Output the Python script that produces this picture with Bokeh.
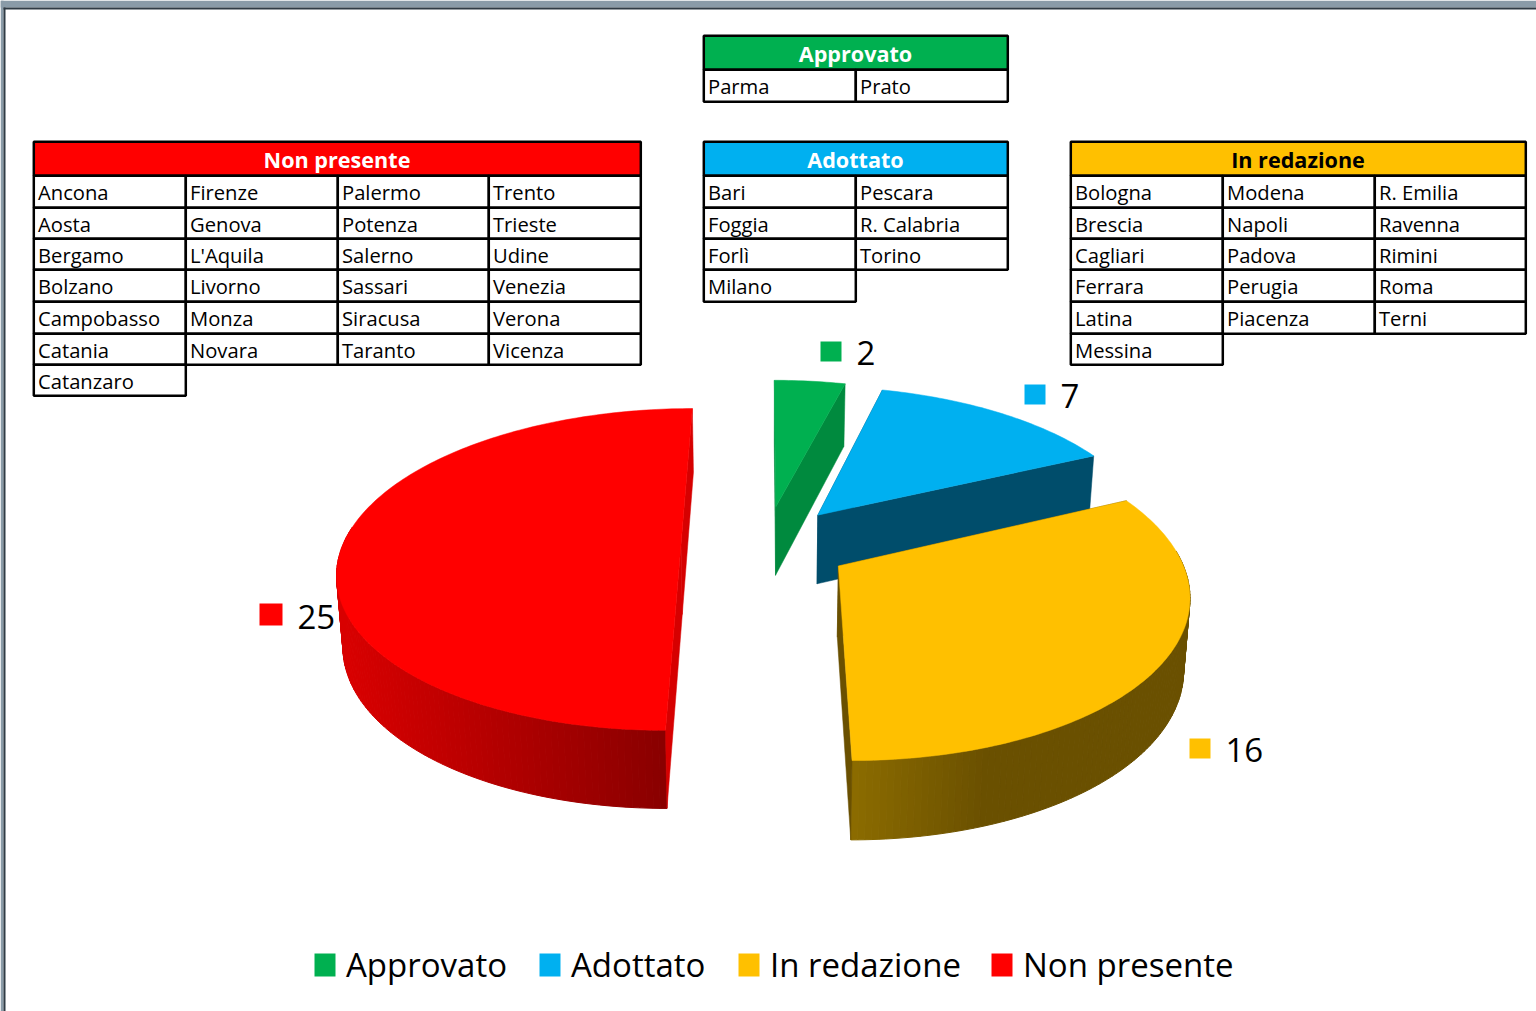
import numpy as np
from bokeh.plotting import figure
from bokeh.models import Range1d, ColumnDataSource
from bokeh.core.properties import value
from bokeh.embed import file_html
from bokeh.resources import INLINE

# ---------- data ----------
categories = ["Approvato", "Adottato", "In redazione", "Non presente"]
counts = [2, 7, 16, 25]
tbl_approvato = [["Parma", "Prato"]]
tbl_adottato = [["Bari", "Pescara"], ["Foggia", "R. Calabria"], ["Forlì", "Torino"], ["Milano"]]
tbl_redazione = [["Bologna", "Modena", "R. Emilia"], ["Brescia", "Napoli", "Ravenna"],
                 ["Cagliari", "Padova", "Rimini"], ["Ferrara", "Perugia", "Roma"],
                 ["Latina", "Piacenza", "Terni"], ["Messina"]]
tbl_nonpres = [["Ancona", "Firenze", "Palermo", "Trento"], ["Aosta", "Genova", "Potenza", "Trieste"],
               ["Bergamo", "L'Aquila", "Salerno", "Udine"], ["Bolzano", "Livorno", "Sassari", "Venezia"],
               ["Campobasso", "Monza", "Siracusa", "Verona"], ["Catania", "Novara", "Taranto", "Vicenza"],
               ["Catanzaro"]]

# ---------- style ----------
COL = ["#00B050", "#00B0F0", "#FFC000", "#FF0000"]
FACE = ["#008A3E", "#004D6B", "#6A5000", "#D60000"]
FONT = value("Open Sans")
BASE_SHIFT = 0.4  # the svg text sits this many font sizes below its anchor

p = figure(width=1536, height=1011, x_range=Range1d(0, 1536), y_range=Range1d(1011, 0),
           output_backend="svg", toolbar_location=None, min_border=0,
           background_fill_color="white", border_fill_color="white", outline_line_color=None)
p.axis.visible = False
p.grid.visible = False
p.styles = {"position": "absolute", "left": "0", "top": "0"}

def label(x, y, txt, size, color="black", align="left", style="normal"):
    p.text([x], [y - BASE_SHIFT * size], text=[txt], text_font=FONT, text_font_size=f"{size}px",
           text_font_style=style, text_color=color, text_align=align, text_baseline="alphabetic")

# window frame
p.quad(left=[0, 0], right=[1536, 3], top=[0, 0], bottom=[7, 1011], color="#8A9BA8", line_color=None)
p.quad(left=[3, 3], right=[1536, 5], top=[7, 7], bottom=[9, 1011], color="#2F3B45", line_color=None)

# ---------- tables ----------
ROW_H = 31.5
COL_W = 151.8
NUDGE = 0.7
pending = []
def table(x0, y0, ncol, title, rows, fill, tcolor):
    xr = round(x0 + ncol * COL_W)
    yh = y0 + 34
    p.quad(left=[x0 - NUDGE], right=[xr - NUDGE], top=[y0 - NUDGE], bottom=[yh - NUDGE], fill_color=fill,
           line_color="black", line_width=2.5)
    pending.append(((x0 + xr) / 2 - 1, y0 + 26, title, 21.6, tcolor, "center", "bold"))
    for r, row in enumerate(rows):
        for c, name in enumerate(row):
            l, rr = round(x0 + c * COL_W), round(x0 + (c + 1) * COL_W)
            t, b = round(yh + r * ROW_H), round(yh + (r + 1) * ROW_H)
            p.quad(left=[l - NUDGE], right=[rr - NUDGE], top=[t - NUDGE], bottom=[b - NUDGE], fill_color="white",
                   line_color="black", line_width=2.5)
            pending.append((l + 3.5, t + 24, name, 20.2, "black", "left", "normal"))

table(704, 36, 2, categories[0], tbl_approvato, COL[0], "white")
table(704, 142, 2, categories[1], tbl_adottato, COL[1], "white")
table(1071, 142, 3, categories[2], tbl_redazione, COL[2], "black")
table(34, 142, 4, categories[3], tbl_nonpres, COL[3], "white")
for args in pending:
    label(*args)

# ---------- perspective pie ----------
VX, HZ, A, K, B = 765.0, -469.0, 1013.0, 0.155, 338.0
EXPL, DEPTH, SHRINK = 0.25, 70.0, 0.985

def proj(X, Y):
    w = 1 - K * np.asarray(Y, float)
    return VX + B * np.asarray(X, float) / w, HZ + A / w, w

def lower(x, y, w):
    return VX + (x - VX) * SHRINK, y + DEPTH * w ** -0.65

def hex2rgb(h):
    return np.array([int(h[i:i + 2], 16) for i in (1, 3, 5)], float)

def grad(x, stops):
    xs = [s[0] for s in stops]
    cs = np.array([hex2rgb(s[1]) for s in stops])
    rgb = [np.interp(x, xs, cs[:, i]) for i in range(3)]
    return "#%02x%02x%02x" % tuple(int(round(v)) for v in rgb)

GRAD = {2: [(851, "#8C6C00"), (985, "#6A5000")], 3: [(345, "#D80000"), (668, "#880000")]}

total = sum(counts)
starts = np.cumsum([0] + counts[:-1]) / total * 360.0
sweeps = np.array(counts) / total * 360.0

for i in [0, 1, 3, 2]:
    a0, sw = starts[i], sweeps[i]
    mid = np.radians(a0 + sw / 2)
    cx, cy = EXPL * np.sin(mid), -EXPL * np.cos(mid)
    th = np.radians(np.linspace(a0, a0 + sw, int(sw) + 2))
    ax, ay, aw = proj(cx + np.sin(th), cy - np.cos(th))
    bx, by = lower(ax, ay, aw)
    ox, oy, ow = proj(cx, cy)
    obx, oby = lower(ox, oy, ow)

    # outer wall, strip by strip
    xs, ys, cols = [], [], []
    for j in range(len(th) - 1):
        if -np.cos(th[j]) < -0.1:
            continue
        xs.append([ax[j], ax[j + 1], bx[j + 1], bx[j]])
        ys.append([ay[j], ay[j + 1], by[j + 1], by[j]])
        cols.append(grad((ax[j] + ax[j + 1]) / 2, GRAD[i]) if i in GRAD else FACE[i])
    if xs:
        p.patches("xs", "ys", source=ColumnDataSource(dict(xs=xs, ys=ys, c=cols)),
                  fill_color="c", line_color="c", line_width=1)
    # radial walls
    for e in (0, -1):
        p.patch([ox, ax[e], bx[e], obx], [oy, ay[e], by[e], oby], fill_color=FACE[i],
                line_color=FACE[i], line_width=0.5)
    # top face
    p.patch(np.r_[ox, ax], np.r_[oy, ay], fill_color=COL[i], line_color=COL[i], line_width=0.5)

# ---------- data labels ----------
lab_sq = [(820, 341, 21), (1024, 384, 21), (1189, 738, 21), (259, 603, 23)]
for i, (x, y, s) in enumerate(lab_sq):
    p.quad(left=[x], right=[x + s], top=[y], bottom=[y + s - 1], fill_color=COL[i], line_color=None)
    label(x + s + 15, y + 25 + (s - 21), str(counts[i]), 33)

# ---------- legend ----------
leg_sq_x = [314, 539, 738, 991]
for i, name in enumerate(categories):
    x = leg_sq_x[i]
    p.quad(left=[x], right=[x + 21], top=[953], bottom=[976], fill_color=COL[i], line_color=None)
    label(x + 31.5, 977, name, 33)

open("out.html", "w").write(file_html(p, INLINE))
